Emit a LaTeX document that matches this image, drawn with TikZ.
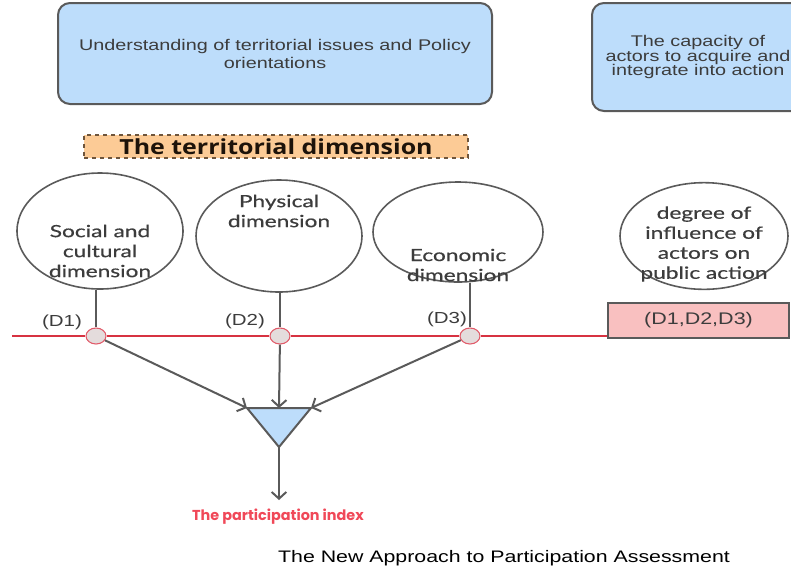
\documentclass[tikz,border=0pt]{standalone}
\usepackage{fontspec}
\setmainfont{Liberation Sans}[FakeStretch=1.28]
\newfontfamily\dimfont{Lato}[FakeStretch=1.35, FakeBold=0.6]
\newfontfamily\titlefont{Open Sans}[FakeStretch=1.2]
\newfontfamily\indexfont{Poppins}
\usepackage{tikz}
\usetikzlibrary{positioning, arrows.meta, shapes.geometric}

\definecolor{boxblue}{RGB}{189,221,251}
\definecolor{edgegray}{RGB}{90,90,90}
\definecolor{textgray}{RGB}{60,60,60}
\definecolor{titleorange}{RGB}{252,203,150}
\definecolor{titleedge}{RGB}{110,85,60}
\definecolor{boxpink}{RGB}{249,192,192}
\definecolor{junfill}{RGB}{228,220,220}
\definecolor{junred}{RGB}{225,90,105}
\definecolor{linered}{RGB}{215,50,65}
\definecolor{indexred}{RGB}{240,72,88}

\begin{document}
\begin{tikzpicture}[
            x=0.75pt, y=-0.75pt,
            every node/.style = {
                align=center, inner sep=0pt
            },
            bluebox/.style = {draw=edgegray, line width=1.5pt, fill=boxblue,
                rounded corners=9pt, text=textgray},
            dimcircle/.style = {ellipse, draw=edgegray, line width=1.2pt},
            dimtext/.style = {font=\dimfont\fontsize{12.6}{15}\selectfont, text=textgray},
            junction/.style = {ellipse, draw=junred, fill=junfill, line width=0.8pt,
                minimum width=15pt, minimum height=12pt},
            dlabel/.style = {font=\fontsize{12}{13}\selectfont, text=textgray},
            stem/.style = {draw=edgegray, line width=1.5pt},
            feed/.style = {draw=edgegray, line width=1.5pt,
                -{Straight Barb[length=5pt, width=11pt]}}
        ]
        \useasboundingbox (0,0) rectangle (791,569);
        \clip (0,0) rectangle (791,569);

            \node[bluebox, minimum width=325.5pt, minimum height=75.75pt,
                font=\fontsize{11.6}{13.5}\selectfont] (policy) at (275,53.5)
                {Understanding of territorial issues and Policy\\orientations};
            \node[bluebox, minimum width=159pt, minimum height=81pt,
                font=\fontsize{11.6}{11}\selectfont] (capacity) at (698,57)
                {The capacity of\\actors to acquire and\\integrate into action};

            \node[draw=titleedge, dashed, line width=1pt, fill=titleorange,
                minimum width=288pt, minimum height=17.25pt,
                font=\titlefont\bfseries\fontsize{15.6}{17}\selectfont, text=black!85!brown]
                (territory) at (276,146.5) {The territorial dimension};

            \node[dimcircle, minimum width=124.5pt, minimum height=87pt,
                label={[dimtext, yshift=-15pt]center:Social and\\cultural\\dimension}]
                (social) at (100,231) {};
            \node[dimcircle, minimum width=124.5pt, minimum height=84pt,
                label={[dimtext, yshift=18.75pt]center:Physical\\dimension}]
                (physical) at (279,236) {};
            \node[dimcircle, minimum width=127.5pt, minimum height=75pt,
                label={[dimtext, yshift=-24.75pt]center:Economic\\dimension}]
                (economic) at (458,232) {};
            \node[dimcircle, minimum width=126pt, minimum height=80pt,
                label={[dimtext, yshift=-6pt]center:degree of\\influence of\\actors on\\public action}]
                (influence) at (704,236) {};

            \node[draw=edgegray, line width=1.2pt, fill=boxpink,
                minimum width=135.75pt, minimum height=26.25pt,
                font=\fontsize{12.6}{13}\selectfont, text=textgray]
                (dbox) at (698.5,320.5) {(D1,D2,D3)};

            \node[junction] (j1) at (96,336) {};
            \node[junction] (j2) at (280,336) {};
            \node[junction] (j3) at (470,336) {};
            \coordinate (lstart) at (12,336);
            \draw[linered, line width=1pt] (lstart) -- (j1) -- (j2) -- (j3) -- (j3 -| dbox.west);

            \node[dlabel] (d1) at (62,322) {(D1)};
            \node[dlabel] (d2) at (245,321) {(D2)};
            \node[dlabel] (d3) at (447,319) {(D3)};

            \draw[stem] (j1 |- social.south) -- (j1);
            \draw[stem] (j2 |- physical.south) -- (j2);
            \draw[stem] (j3 |- economic.south) -- (j3);

            \coordinate (tl) at (247,408);
            \coordinate (tm) at (279,408);
            \coordinate (tr) at (311,408);
            \coordinate (apex) at (279,447);
            \draw[edgegray, line width=1.5pt, fill=boxblue, line join=round]
                (tl) -- (tr) -- (apex) -- cycle;

            \draw[feed] (j1) -- (tl);
            \draw[feed] (j2) -- (tm);
            \draw[feed] (j3) -- (tr);

            \coordinate (outend) at (279,500);
            \draw[feed] (apex) -- (outend);

            \node[font=\indexfont\bfseries\fontsize{10.8}{12}\selectfont, text=indexred]
                (index) at (278,517) {The participation index};

            \node[font=\fontsize{12.5}{14}\selectfont, text=black]
                (caption) at (504,558) {The New Approach to Participation Assessment};
        \end{tikzpicture}
\end{document}
